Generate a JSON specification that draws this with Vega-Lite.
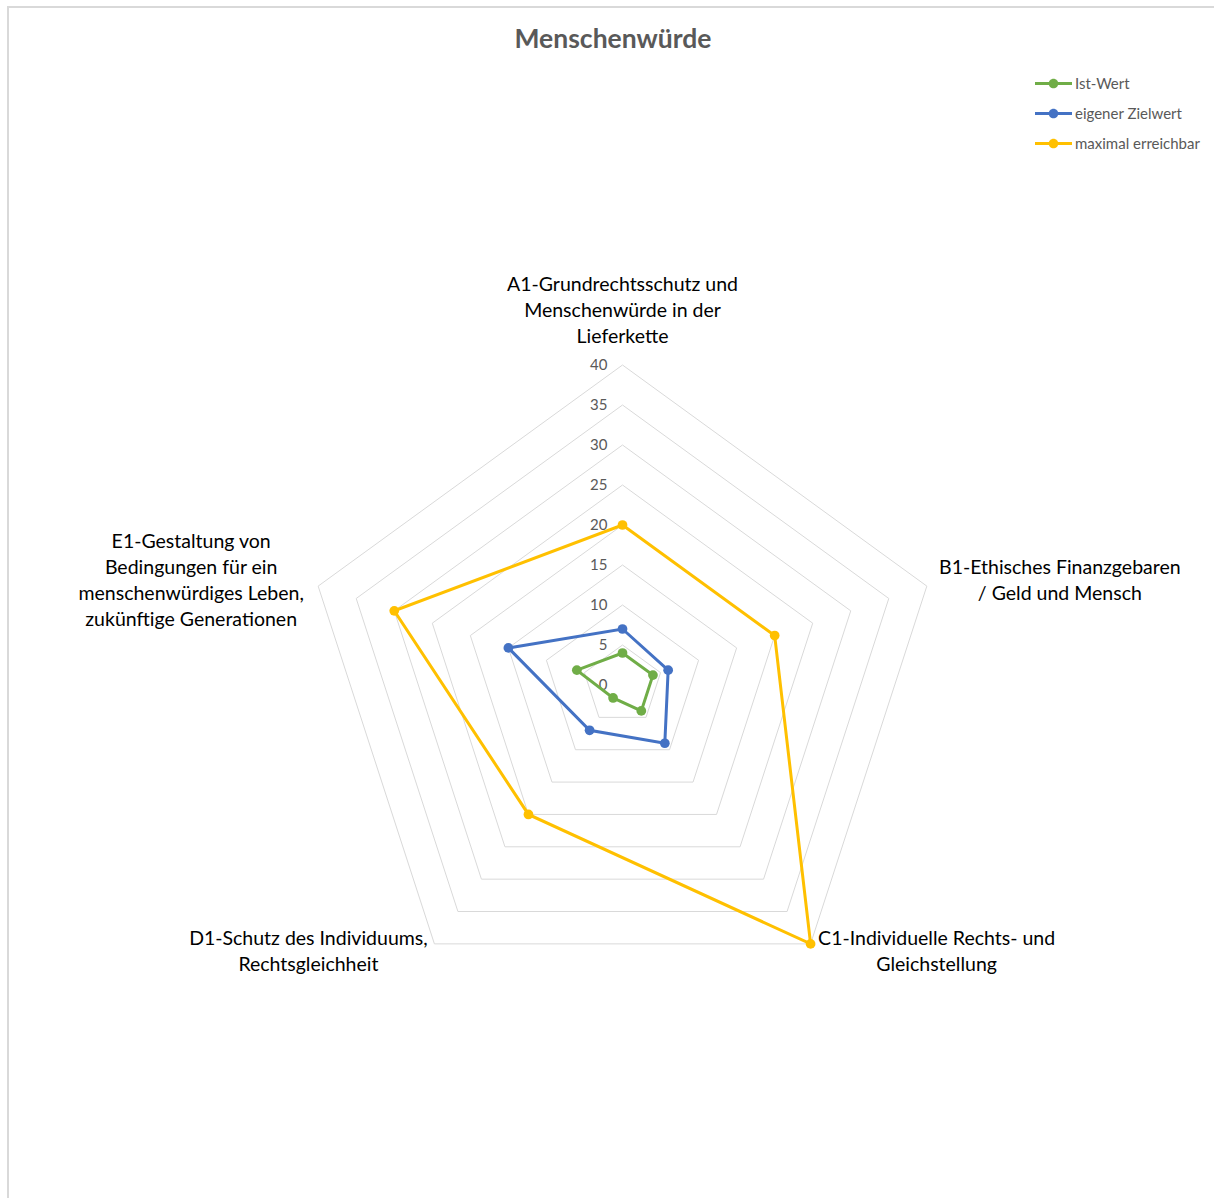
{
  "$schema": "https://vega.github.io/schema/vega-lite/v6.json",
  "width": 1210,
  "height": 1195,
  "autosize": {"type": "none"},
  "padding": {"left": 8, "top": 7, "right": 0, "bottom": 0},
  "background": "white",
  "view": {"stroke": "#d9d9d9", "strokeWidth": 2},
  "title": {
    "text": "Menschenwürde",
    "anchor": "middle",
    "font": "Lato",
    "fontSize": 26.5,
    "fontWeight": "bold",
    "color": "#595959",
    "baseline": "alphabetic",
    "offset": -67
  },
  "datasets": {
    "scores": [
      {"series": "Ist-Wert", "k": 0, "value": 4},
      {"series": "Ist-Wert", "k": 1, "value": 4},
      {"series": "Ist-Wert", "k": 2, "value": 4},
      {"series": "Ist-Wert", "k": 3, "value": 2},
      {"series": "Ist-Wert", "k": 4, "value": 6},
      {"series": "eigener Zielwert", "k": 0, "value": 7},
      {"series": "eigener Zielwert", "k": 1, "value": 6},
      {"series": "eigener Zielwert", "k": 2, "value": 9},
      {"series": "eigener Zielwert", "k": 3, "value": 7},
      {"series": "eigener Zielwert", "k": 4, "value": 15},
      {"series": "maximal erreichbar", "k": 0, "value": 20},
      {"series": "maximal erreichbar", "k": 1, "value": 20},
      {"series": "maximal erreichbar", "k": 2, "value": 40},
      {"series": "maximal erreichbar", "k": 3, "value": 20},
      {"series": "maximal erreichbar", "k": 4, "value": 30}
    ],
    "axes": [
      {"k": 0, "label": "A1-Grundrechtsschutz und\nMenschenwürde in der\nLieferkette"},
      {"k": 1, "label": "B1-Ethisches Finanzgebaren\n/ Geld und Mensch"},
      {"k": 2, "label": "C1-Individuelle Rechts- und\nGleichstellung"},
      {"k": 3, "label": "D1-Schutz des Individuums,\nRechtsgleichheit"},
      {"k": 4, "label": "E1-Gestaltung von\nBedingungen für ein\nmenschenwürdiges Leben,\nzukünftige Generationen"}
    ],
    "rings": [
      {"ring": 5, "k": [0, 1, 2, 3, 4]},
      {"ring": 10, "k": [0, 1, 2, 3, 4]},
      {"ring": 15, "k": [0, 1, 2, 3, 4]},
      {"ring": 20, "k": [0, 1, 2, 3, 4]},
      {"ring": 25, "k": [0, 1, 2, 3, 4]},
      {"ring": 30, "k": [0, 1, 2, 3, 4]},
      {"ring": 35, "k": [0, 1, 2, 3, 4]},
      {"ring": 40, "k": [0, 1, 2, 3, 4]}
    ],
    "ticks": [
      {"tick": 0}, {"tick": 5}, {"tick": 10}, {"tick": 15}, {"tick": 20},
      {"tick": 25}, {"tick": 30}, {"tick": 35}, {"tick": 40}
    ]
  },
  "layer": [
    {
      "data": {"name": "rings"},
      "transform": [
        {"flatten": ["k"]},
        {"calculate": "datum.ring * sin(datum.k * 2 * PI / 5)", "as": "px"},
        {"calculate": "datum.ring * cos(datum.k * 2 * PI / 5)", "as": "py"}
      ],
      "mark": {"type": "line", "interpolate": "linear-closed", "color": "#d9d9d9", "strokeWidth": 1},
      "encoding": {
        "x": {"field": "px", "type": "quantitative", "scale": {"domain": [-76.8125, 74.4375], "nice": false, "zero": false}, "axis": null},
        "y": {"field": "py", "type": "quantitative", "scale": {"domain": [-64.625, 84.75], "nice": false, "zero": false}, "axis": null},
        "detail": {"field": "ring", "type": "nominal"},
        "order": {"field": "k", "type": "quantitative"}
      }
    },
    {
      "data": {"name": "ticks"},
      "mark": {"type": "text", "align": "right", "baseline": "middle", "dx": -15, "font": "Lato", "fontSize": 15, "color": "#595959"},
      "encoding": {
        "x": {"datum": 0, "type": "quantitative"},
        "y": {"field": "tick", "type": "quantitative"},
        "text": {"field": "tick", "type": "quantitative"}
      }
    },
    {
      "data": {"name": "scores"},
      "transform": [
        {"calculate": "datum.value * sin(datum.k * 2 * PI / 5)", "as": "px"},
        {"calculate": "datum.value * cos(datum.k * 2 * PI / 5)", "as": "py"}
      ],
      "mark": {"type": "line", "interpolate": "linear-closed", "strokeWidth": 3},
      "encoding": {
        "x": {"field": "px", "type": "quantitative"},
        "y": {"field": "py", "type": "quantitative"},
        "color": {
          "field": "series",
          "type": "nominal",
          "scale": {"domain": ["Ist-Wert", "eigener Zielwert", "maximal erreichbar"], "range": ["#70AD47", "#4472C4", "#FFC000"]},
          "legend": {
            "title": null,
            "orient": "none",
            "legendX": 1036,
            "legendY": 67,
            "symbolType": "M-2,-0.16H2V0.16H-2Z M0.52,0A0.52,0.52 0 1,1 -0.52,0A0.52,0.52 0 1,1 0.52,0Z",
            "symbolSize": 342,
            "symbolStrokeWidth": 0,
            "labelFont": "Lato",
            "labelFontSize": 15,
            "labelColor": "#595959",
            "labelOffset": 12,
            "rowPadding": 12,
            "encode": {"symbols": {"update": {"fill": {"scale": "color", "field": "value"}, "stroke": {"value": "transparent"}, "opacity": {"value": 1}}}}
          }
        },
        "order": {"field": "k", "type": "quantitative"}
      }
    },
    {
      "data": {"name": "scores"},
      "transform": [
        {"calculate": "datum.value * sin(datum.k * 2 * PI / 5)", "as": "px"},
        {"calculate": "datum.value * cos(datum.k * 2 * PI / 5)", "as": "py"}
      ],
      "mark": {"type": "point", "filled": true, "size": 95, "opacity": 1, "shape": "circle"},
      "encoding": {
        "x": {"field": "px", "type": "quantitative"},
        "y": {"field": "py", "type": "quantitative"},
        "color": {"field": "series", "type": "nominal"}
      }
    },
    {
      "data": {"name": "axes"},
      "transform": [
        {"filter": "datum.k == 0"},
        {"calculate": "40 * sin(datum.k * 2 * PI / 5)", "as": "px"},
        {"calculate": "40 * cos(datum.k * 2 * PI / 5)", "as": "py"}
      ],
      "mark": {"type": "text", "align": "center", "baseline": "middle", "dy": -80, "lineBreak": "\n", "lineHeight": 26, "font": "Lato", "fontSize": 19.5, "color": "#000000"},
      "encoding": {
        "x": {"field": "px", "type": "quantitative"},
        "y": {"field": "py", "type": "quantitative"},
        "text": {"field": "label", "type": "nominal"}
      }
    },
    {
      "data": {"name": "axes"},
      "transform": [
        {"filter": "datum.k == 1"},
        {"calculate": "40 * sin(datum.k * 2 * PI / 5)", "as": "px"},
        {"calculate": "40 * cos(datum.k * 2 * PI / 5)", "as": "py"}
      ],
      "mark": {"type": "text", "align": "center", "baseline": "middle", "dx": 133, "dy": -18, "lineBreak": "\n", "lineHeight": 26, "font": "Lato", "fontSize": 19.5, "color": "#000000"},
      "encoding": {
        "x": {"field": "px", "type": "quantitative"},
        "y": {"field": "py", "type": "quantitative"},
        "text": {"field": "label", "type": "nominal"}
      }
    },
    {
      "data": {"name": "axes"},
      "transform": [
        {"filter": "datum.k == 2"},
        {"calculate": "40 * sin(datum.k * 2 * PI / 5)", "as": "px"},
        {"calculate": "40 * cos(datum.k * 2 * PI / 5)", "as": "py"}
      ],
      "mark": {"type": "text", "align": "center", "baseline": "middle", "dx": 126, "dy": -5, "lineBreak": "\n", "lineHeight": 26, "font": "Lato", "fontSize": 19.5, "color": "#000000"},
      "encoding": {
        "x": {"field": "px", "type": "quantitative"},
        "y": {"field": "py", "type": "quantitative"},
        "text": {"field": "label", "type": "nominal"}
      }
    },
    {
      "data": {"name": "axes"},
      "transform": [
        {"filter": "datum.k == 3"},
        {"calculate": "40 * sin(datum.k * 2 * PI / 5)", "as": "px"},
        {"calculate": "40 * cos(datum.k * 2 * PI / 5)", "as": "py"}
      ],
      "mark": {"type": "text", "align": "center", "baseline": "middle", "dx": -126, "dy": -5, "lineBreak": "\n", "lineHeight": 26, "font": "Lato", "fontSize": 19.5, "color": "#000000"},
      "encoding": {
        "x": {"field": "px", "type": "quantitative"},
        "y": {"field": "py", "type": "quantitative"},
        "text": {"field": "label", "type": "nominal"}
      }
    },
    {
      "data": {"name": "axes"},
      "transform": [
        {"filter": "datum.k == 4"},
        {"calculate": "40 * sin(datum.k * 2 * PI / 5)", "as": "px"},
        {"calculate": "40 * cos(datum.k * 2 * PI / 5)", "as": "py"}
      ],
      "mark": {"type": "text", "align": "center", "baseline": "middle", "dx": -127, "dy": -44, "lineBreak": "\n", "lineHeight": 26, "font": "Lato", "fontSize": 19.5, "color": "#000000"},
      "encoding": {
        "x": {"field": "px", "type": "quantitative"},
        "y": {"field": "py", "type": "quantitative"},
        "text": {"field": "label", "type": "nominal"}
      }
    }
  ]
}
